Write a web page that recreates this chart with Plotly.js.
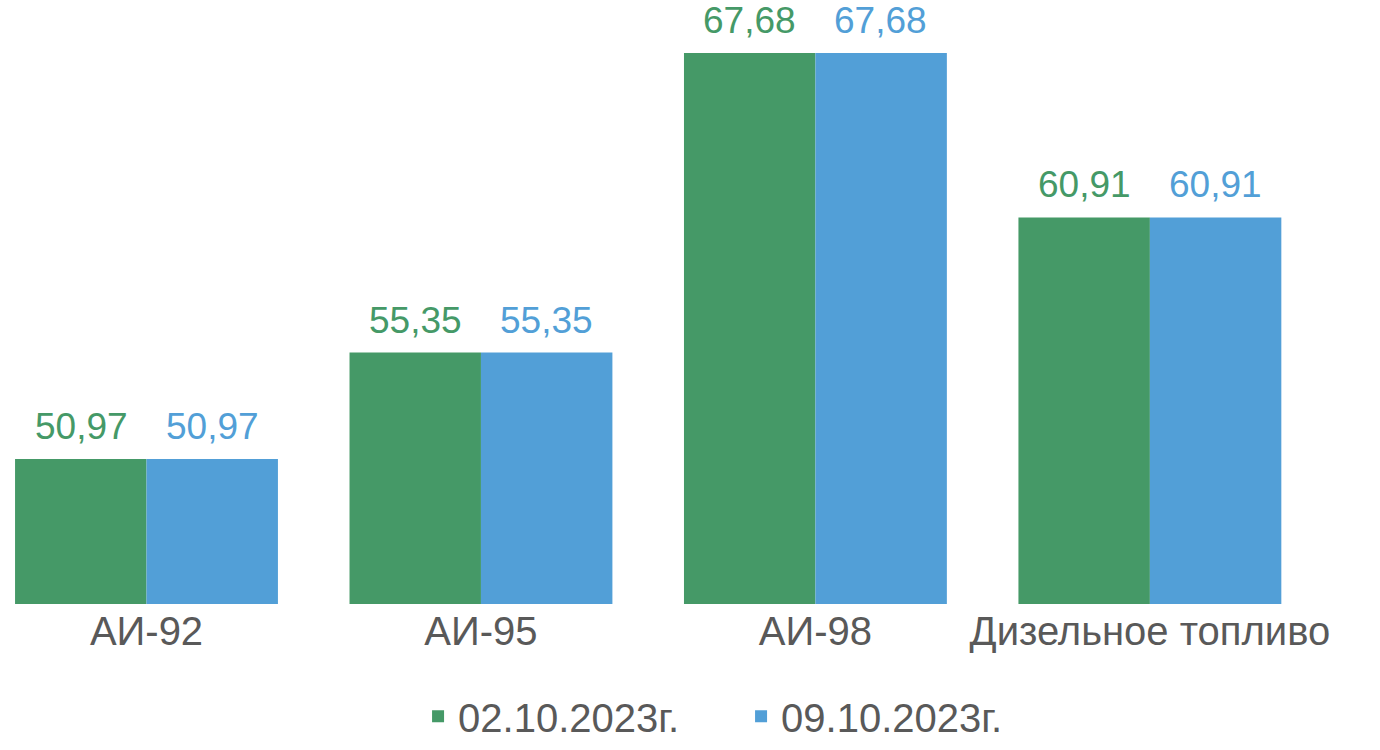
<!DOCTYPE html>
<html>
<head>
<meta charset="utf-8">
<script src="https://cdn.plot.ly/plotly-3.0.1.min.js"></script>
<style>html,body{margin:0;padding:0;background:#fff;}#chart{width:1380px;height:750px;}</style>
</head>
<body>
<div id="chart"></div>
<script>
const categories = ["АИ-92", "АИ-95", "АИ-98", "Дизельное топливо"];
const seriesNames = ["02.10.2023г.", "09.10.2023г."];
const values1 = [50.97, 55.35, 67.68, 60.91];
const values2 = [50.97, 55.35, 67.68, 60.91];
const colors = ["#459967", "#529FD7"];

const fmt = v => v.toFixed(2).replace('.', ',');
const font = "Liberation Sans, Arial, sans-serif";
const series = [values1, values2];

const traces = series.map((vals, i) => ({
  type: 'bar',
  name: seriesNames[i],
  x: categories,
  y: vals,
  marker: {color: colors[i]},
  hoverinfo: 'none'
}));

const slotPx = 131; // half of group width, for placing labels over each bar
const annotations = [];
series.forEach((vals, i) => {
  vals.forEach((v, j) => {
    annotations.push({
      xref: 'x', yref: 'y', x: categories[j], y: v,
      xshift: (i - 0.5) * slotPx, yshift: 10,
      xanchor: 'center', yanchor: 'bottom',
      showarrow: false, text: fmt(v),
      font: {family: font, size: 37, color: colors[i]}
    });
  });
});

const layout = {
  width: 1380, height: 750,
  margin: {l: 0, r: 0, t: 0, b: 146},
  paper_bgcolor: '#fff', plot_bgcolor: '#fff',
  barmode: 'group', bargap: 0.214, bargroupgap: 0,
  font: {family: font, color: '#595959'},
  xaxis: {
    type: 'category',
    range: [-0.438, 3.688],
    showgrid: false, zeroline: false, showline: false, ticks: '',
    tickfont: {family: font, size: 40, color: '#595959'}
  },
  yaxis: {
    range: [45, 69.86],
    visible: false, showgrid: false, zeroline: false
  },
  annotations: annotations,
  showlegend: true,
  legend: {
    orientation: 'h',
    xref: 'paper', x: 0.537, xanchor: 'center',
    yref: 'container', y: 0.045, yanchor: 'middle',
    font: {family: font, size: 40, color: '#595959'},
    itemwidth: 30,
    entrywidth: 278
  }
};

Plotly.newPlot('chart', traces, layout, {displayModeBar: false, staticPlot: true});
</script>
</body>
</html>
